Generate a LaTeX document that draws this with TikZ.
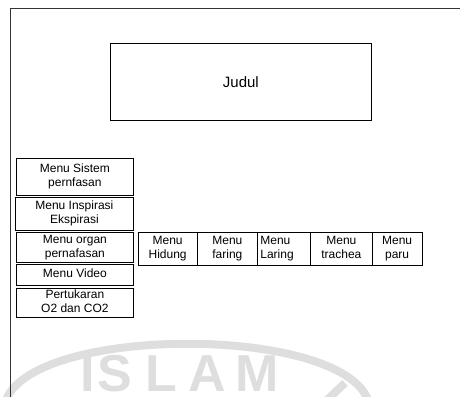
\documentclass[tikz,border=0pt]{standalone}
\usepackage{fontspec}
\setmainfont{Liberation Sans}
\begin{document}
\begin{tikzpicture}[x=1pt,y=-1pt,
  box/.style={draw=black, line width=0.8pt, inner sep=0pt, align=center,
    font=\fontsize{12}{14}\selectfont, anchor=north west},
  frame/.style={draw=black!80, line width=0.8pt},
  wm/.style={draw=black!13, line width=8pt},
  wmtext/.style={text=black!13, inner sep=0pt, anchor=base,
    font=\fontsize{52}{52}\selectfont\bfseries}]
\useasboundingbox (0,0) rectangle (460,396);
% faint watermark
\draw[wm] (6,400) .. controls (35,325) and (340,325) .. (368,400);
\draw[wm] (327,400) -- (345,383);
\node[wmtext] (wi) at (88,391) {I};
\node[wmtext] (ws) at (115,391) {S};
\node[wmtext] (wl) at (161,391) {L};
\node[wmtext] (wa) at (207,391) {A};
\node[wmtext] (wm) at (257,391) {M};
% frame
\draw[frame] (10,400) -- (10,8) -- (462,8);
% title
\node[box, minimum width=261, minimum height=77,
  font=\fontsize{15}{18}\selectfont] (judul) at (110,43) {Judul};
% left menu
\node[box, minimum width=117, minimum height=37] (m1) at (16,158) {Menu Sistem\strut\\pernfasan\strut};
\node[box, minimum width=118, minimum height=33] (m2) at (15,197) {Menu Inspirasi\strut\\Ekspirasi\strut};
\node[box, minimum width=117, minimum height=30] (m3) at (16,232) {Menu organ\strut\\pernafasan\strut};
\node[box, minimum width=117, minimum height=21] (m4) at (16,264) {Menu Video\strut};
\node[box, minimum width=117, minimum height=29] (m5) at (16,288) {Pertukaran\strut\\O2 dan CO2\strut};
% organ submenu
\node[box, minimum width=59, minimum height=33] (h1) at (137.7,232) {Menu\strut\\Hidung\strut};
\node[box, minimum width=60.6, minimum height=33] (h2) at (196.7,232) {Menu\strut\\faring\strut};
\node[box, minimum height=33, text width=47.6, inner xsep=2.7pt, align=left] (h3) at (257.3,232) {Menu\strut\\Laring\strut};
\node[box, minimum width=61.4, minimum height=33] (h4) at (310.3,232) {Menu\strut\\trachea\strut};
\node[box, minimum width=50, minimum height=33] (h5) at (371.7,232) {Menu\strut\\paru\strut};
\end{tikzpicture}
\end{document}
